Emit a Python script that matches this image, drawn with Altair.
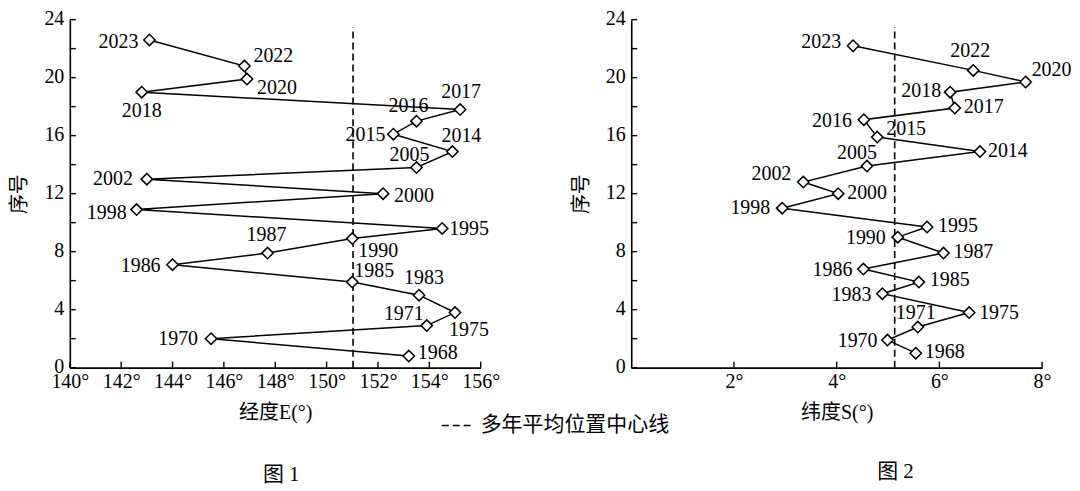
import altair as alt
import pandas as pd

# 年份（图1、图2共用）
years = [1968, 1970, 1971, 1975, 1983, 1985, 1986, 1987, 1990, 1995, 1998,
         2000, 2002, 2005, 2014, 2015, 2016, 2017, 2018, 2020, 2022, 2023]

# 图1：经度E(°) 与序号
lon_e = [153.2, 145.5, 153.9, 155.0, 153.6, 151.0, 144.0, 147.7, 151.0, 154.5, 142.6,
         152.2, 143.0, 153.5, 154.9, 152.6, 153.5, 155.2, 142.8, 146.9, 146.8, 143.1]
seq_1 = [0.8, 2.0, 2.9, 3.8, 5.0, 5.9, 7.1, 7.9, 8.9, 9.6, 10.9,
         12.0, 13.0, 13.8, 14.9, 16.1, 17.0, 17.8, 19.0, 19.9, 20.8, 22.6]

# 图2：纬度S(°) 与序号
lat_s = [5.54, 4.99, 5.58, 6.58, 4.89, 5.60, 4.52, 6.08, 5.19, 5.76, 2.94,
         4.03, 3.35, 4.59, 6.79, 4.79, 4.53, 6.30, 6.21, 7.68, 6.66, 4.32]
seq_2 = [1.0, 1.9, 2.8, 3.8, 5.1, 5.9, 6.8, 7.9, 9.0, 9.7, 11.0,
         12.0, 12.8, 13.9, 14.9, 15.9, 17.1, 17.9, 19.0, 19.7, 20.5, 22.2]

mean_lon = 151.03
mean_lat = 5.13
mean_top = 23.5

lon_ticks = [140, 142, 144, 146, 148, 150, 152, 154, 156]
lat_ticks = [2, 4, 6, 8]
seq_ticks = [0, 2, 4, 6, 8, 10, 12, 14, 16, 18, 20, 22, 24]

# label placement beside each marker: (align, dx px, dy px)
labels_1 = {
    2023: ("right", -11, 2), 2022: ("left", 9, -10), 2020: ("left", 10, 9),
    2018: ("center", 0, 19), 2017: ("center", 1, -18), 2016: ("center", -8, -15),
    2015: ("right", -8, 1), 2014: ("center", 9, -16), 2005: ("center", -7, -13),
    2002: ("right", -14, 0), 2000: ("left", 11, 2), 1998: ("right", -10, 3),
    1995: ("left", 7, 1), 1990: ("left", 6, 12), 1987: ("center", -1, -18),
    1986: ("right", -12, 1), 1985: ("left", 2, -11), 1983: ("center", 5, -17),
    1975: ("center", 14, 18), 1971: ("right", -3, -12), 1970: ("right", -13, 0),
    1968: ("left", 9, -3),
}
labels_2 = {
    2023: ("right", -12, -4), 2022: ("center", -3, -19), 2020: ("left", 6, -12),
    2018: ("right", -9, -1), 2017: ("left", 9, -1), 2016: ("right", -12, 1),
    2015: ("left", 9, -8), 2014: ("left", 8, -1), 2005: ("center", -10, -13),
    2002: ("right", -12, -8), 2000: ("left", 9, -1), 1998: ("right", -12, 0),
    1995: ("left", 11, -1), 1990: ("right", -12, 1), 1987: ("left", 10, -1),
    1986: ("right", -11, 1), 1985: ("left", 11, -2), 1983: ("right", -11, 1),
    1975: ("left", 10, 0), 1971: ("center", -2, -14), 1970: ("right", -10, 1),
    1968: ("left", 9, -1),
}

SERIF = "'Liberation Serif', 'Times New Roman', 'Noto Sans CJK SC', serif"
W, H = 412, 349


def panel(xs, ys, placements, domain, xticks, mean_x, xtitle):
    df = pd.DataFrame({"year": years, "x": xs, "y": ys})
    df["align"] = [placements[y][0] for y in years]
    df["dx"] = [placements[y][1] for y in years]
    df["dy"] = [placements[y][2] for y in years]

    x_scale = alt.Scale(domain=domain, nice=False, zero=False)
    y_scale = alt.Scale(domain=[0, 24], nice=False)
    x_axis = alt.Axis(values=xticks, labelExpr="datum.value + '°'", title=xtitle,
                      tickSize=0, labelPadding=4, titlePadding=11, grid=False,
                      labelOverlap=False, labelFlush=False)
    y_axis = alt.Axis(values=seq_ticks, title="序号", tickSize=0, labelPadding=6,
                      titlePadding=14, grid=False, labelOverlap=False, labelFlush=False,
                      labelOffset=-1)

    base = alt.Chart(df)
    line = base.mark_line(color="black", strokeWidth=1.5).encode(
        x=alt.X("x:Q", scale=x_scale, axis=x_axis),
        y=alt.Y("y:Q", scale=y_scale, axis=y_axis),
        order="y:Q",
    )
    pts = base.mark_point(shape="diamond", size=130, filled=True, fill="white",
                          stroke="black", strokeWidth=1.5, opacity=1).encode(
        x="x:Q", y="y:Q")

    # pixel offsets turned into data units of the fixed scales
    kx = (domain[1] - domain[0]) / W
    ky = 24 / H
    texts = []
    for a in ["left", "center", "right"]:
        texts.append(base.transform_filter(alt.datum.align == a).transform_calculate(
            lx=f"datum.x + datum.dx * {kx}", ly=f"datum.y - datum.dy * {ky}"
        ).mark_text(
            align=a, baseline="middle", font=SERIF, fontSize=20, color="black"
        ).encode(x="lx:Q", y="ly:Q", text="year:N"))

    mean = alt.Chart(pd.DataFrame({"m": [mean_x], "lo": [0], "hi": [mean_top]})).mark_rule(
        color="black", strokeWidth=1.6, strokeDash=[7, 4]).encode(
        x="m:Q", y="lo:Q", y2="hi:Q")

    xt = alt.Chart(pd.DataFrame({"t": xticks})).mark_rule(color="black", strokeWidth=1.4).encode(
        x="t:Q", y=alt.value(H), y2=alt.value(H - 6))
    yt = alt.Chart(pd.DataFrame({"t": seq_ticks})).mark_rule(color="black", strokeWidth=1.4).encode(
        y="t:Q", x=alt.value(0), x2=alt.value(6))

    return [line, mean, xt, yt, pts] + texts


left_layers = panel(lon_e, seq_1, labels_1, [140, 156], lon_ticks, mean_lon, "经度E(°)")
right_layers = panel(lat_s, seq_2, labels_2, [0, 8], lat_ticks, mean_lat, "纬度S(°)")

# legend and figure captions
legend_dash = alt.Chart(pd.DataFrame({"k": [0]})).mark_rule(
    color="black", strokeWidth=1.4, strokeDash=[7, 4]).encode(
    x=alt.value(373), x2=alt.value(402), y=alt.value(H + 58))
legend_text = alt.Chart(pd.DataFrame({"k": ["多年平均位置中心线"]})).mark_text(
    align="left", baseline="middle", font=SERIF, fontSize=21, color="black").encode(
    x=alt.value(412), y=alt.value(H + 58), text="k:N")
cap1 = alt.Chart(pd.DataFrame({"k": ["图 1"]})).mark_text(
    align="center", baseline="middle", font=SERIF, fontSize=21, color="black").encode(
    x=alt.value(212), y=alt.value(H + 108), text="k:N")
cap2 = alt.Chart(pd.DataFrame({"k": ["图 2"]})).mark_text(
    align="center", baseline="middle", font=SERIF, fontSize=21, color="black").encode(
    x=alt.value(265), y=alt.value(H + 105), text="k:N")

left = alt.layer(*left_layers, legend_dash, legend_text, cap1).properties(width=W, height=H)
right = alt.layer(*right_layers, cap2).properties(width=W, height=H)

chart = alt.hconcat(left, right, spacing=151, bounds="flush").properties(
    padding={"left": 2, "top": 0, "right": 0, "bottom": 0},
    background="white",
).configure_view(stroke=None).configure_axis(
    domainColor="black", domainWidth=1.6, labelColor="black", titleColor="black",
    labelFont=SERIF, titleFont=SERIF, labelFontSize=20, titleFontSize=20,
    titleFontWeight="normal",
)

chart.save("out.html", embed_options={"renderer": "svg", "actions": False})
